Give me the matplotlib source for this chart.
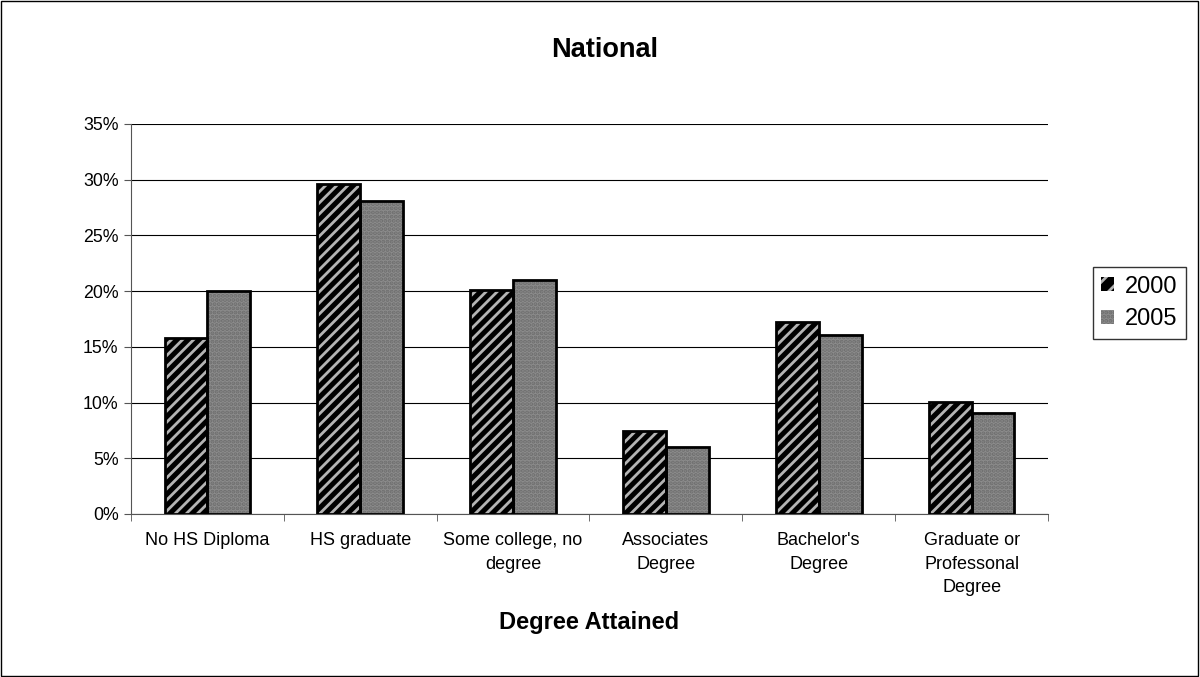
import numpy as np
import matplotlib.pyplot as plt
from matplotlib.patches import Rectangle

plt.rcParams['font.family'] = ['Liberation Sans', 'DejaVu Sans']
plt.rcParams['hatch.linewidth'] = 2.0

categories = ["No HS Diploma", "HS graduate", "Some college, no\ndegree",
              "Associates\nDegree", "Bachelor's\nDegree",
              "Graduate or\nProfessonal\nDegree"]
pct_2000 = [15.8, 29.6, 20.1, 7.45, 17.2, 10.05]
pct_2005 = [20.0, 28.1, 21.0, 6.0, 16.1, 9.05]
yticks = [0, 5, 10, 15, 20, 25, 30, 35]

fig = plt.figure(figsize=(12, 6.77), dpi=100)
ax = fig.add_axes([131 / 1200, 1 - 514 / 677, 917 / 1200, 390 / 677])

x = np.arange(len(categories))
w = 0.28

# 2000: black with light diagonal stripes
ax.bar(x - w / 2, pct_2000, w, color='black', edgecolor='#b4b4b4', hatch='///', linewidth=0, zorder=3)
ax.bar(x - w / 2, pct_2000, w, fill=False, edgecolor='black', linewidth=2, zorder=4)
# 2005: gray dotted
ax.bar(x + w / 2, pct_2005, w, color='#8c8c8c', edgecolor='#6e6e6e', hatch='....', linewidth=0, zorder=3)
ax.bar(x + w / 2, pct_2005, w, fill=False, edgecolor='black', linewidth=2, zorder=4)

ax.set_xlim(-0.5, len(categories) - 0.5)
ax.set_ylim(0, 35)
ax.set_yticks(yticks)
ax.set_yticklabels([f"{v}%" for v in yticks], fontsize=12.8)
ax.yaxis.grid(True, color='black', linewidth=0.8)
ax.set_axisbelow(True)

ax.set_xticks(x)
ax.set_xticklabels(categories, fontsize=13, linespacing=1.5, va='top')
ax.set_xticks(np.arange(len(categories) + 1) - 0.5, minor=True)
ax.tick_params(axis='x', which='major', length=0, pad=13)
ax.tick_params(axis='x', which='minor', length=5, color='#555555')
ax.tick_params(axis='y', length=5, color='#555555', pad=4)

for s in ['top', 'right']:
    ax.spines[s].set_visible(False)
ax.spines['left'].set_color('#555555')
ax.spines['bottom'].set_color('#555555')

fig.text(605 / 1200, 1 - 50 / 677, "National", fontsize=19.5, fontweight='bold',
         ha='center', va='center')
fig.text(589 / 1200, 1 - 623 / 677, "Degree Attained", fontsize=17, fontweight='bold',
         ha='center', va='center')

h1 = Rectangle((0, 0), 1, 1, facecolor='black', edgecolor='#b4b4b4', hatch='//', linewidth=0)
h2 = Rectangle((0, 0), 1, 1, facecolor='#8c8c8c', edgecolor='#6e6e6e', hatch='....', linewidth=0)
leg = fig.legend([h1, h2], ["2000", "2005"], loc='center left',
                 bbox_to_anchor=(1093 / 1200, 1 - 303 / 677), fontsize=17,
                 frameon=True, fancybox=False, edgecolor='black',
                 handlelength=0.55, handleheight=0.55, handletextpad=0.45,
                 borderpad=0.35, labelspacing=0.45, borderaxespad=0)
leg.get_frame().set_linewidth(1)

fig.patches.append(Rectangle((0.001, 0.002), 0.997, 0.996, transform=fig.transFigure,
                             fill=False, edgecolor='black', linewidth=1))

fig.savefig("out.png", dpi=100)
